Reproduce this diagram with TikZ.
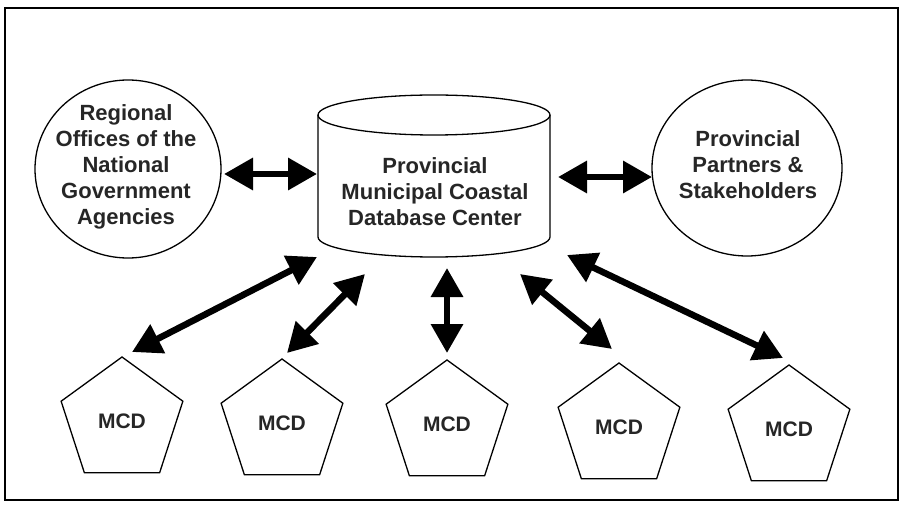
\documentclass[tikz,border=0pt]{standalone}
\usepackage{fontspec}
\setmainfont{Liberation Sans}
\usetikzlibrary{arrows.meta,shapes.geometric}
\begin{document}
\begin{tikzpicture}[x=1pt,y=1pt,
  lbl/.style={font=\bfseries\fontsize{22}{26}\selectfont, align=center, text=black!85, inner sep=0pt},
  party/.style={ellipse, draw, line width=1.3pt, inner sep=0pt},
  mcd/.style={regular polygon, regular polygon sides=5, draw, line width=1.3pt,
              minimum size=128pt, inner sep=0pt, text=black!85,
              font=\bfseries\fontsize{21}{24}\selectfont},
  link/.style={line width=6.5pt,
               {Triangle[length=29pt,width=31pt]}-{Triangle[length=29pt,width=31pt]}},
]
\useasboundingbox (0,0) rectangle (902,504);
% outer frame
\draw[line width=2pt] (5,4) rectangle (898,496);

% partner ellipses
\node[party, minimum width=186pt, minimum height=178pt] (reg) at (128,335) {};
\node[lbl] (regtxt) at (126,337) {Regional\\Offices of the\\National\\Government\\Agencies};
\node[party, minimum width=190pt, minimum height=176pt] (prov) at (747,336) {};
\node[lbl] (provtxt) at (748,339) {Provincial\\Partners \&\\Stakeholders};

% database cylinder
\node[minimum width=232pt, minimum height=162pt, inner sep=0pt] (db) at (434,328) {};
\draw[line width=1.3pt] (434,389) ellipse (116 and 20);
\draw[line width=1.3pt] (318,389) -- (318,267) arc (180:360:116 and 20) -- (550,389);
\node[lbl] (dbtxt) at (435,312) {Provincial\\Municipal Coastal\\Database Center};

% municipal nodes
\node[mcd] (m1) at (122,83) {MCD};
\node[mcd] (m2) at (282,81) {MCD};
\node[mcd] (m3) at (447,80) {MCD};
\node[mcd] (m4) at (619,77) {MCD};
\node[mcd] (m5) at (789,75) {MCD};

% arrow end points
\coordinate (h1a) at (224,330); \coordinate (h1b) at (317,330);
\coordinate (h2a) at (558,327); \coordinate (h2b) at (652,327);
\coordinate (a1t) at (317,247); \coordinate (a1b) at (132,152);
\coordinate (a2t) at (365,230); \coordinate (a2b) at (287,151);
\coordinate (a3t) at (447,236); \coordinate (a3b) at (447,151);
\coordinate (a4t) at (520,230); \coordinate (a4b) at (612,155);
\coordinate (a5t) at (567,249); \coordinate (a5b) at (783,146);

% data exchange links
\draw[link] (h1a) -- (h1b);
\draw[link] (h2a) -- (h2b);
\draw[link] (a1t) -- (a1b);
\draw[link] (a2t) -- (a2b);
\draw[link] (a3t) -- (a3b);
\draw[link] (a4t) -- (a4b);
\draw[link] (a5t) -- (a5b);
\end{tikzpicture}
\end{document}
